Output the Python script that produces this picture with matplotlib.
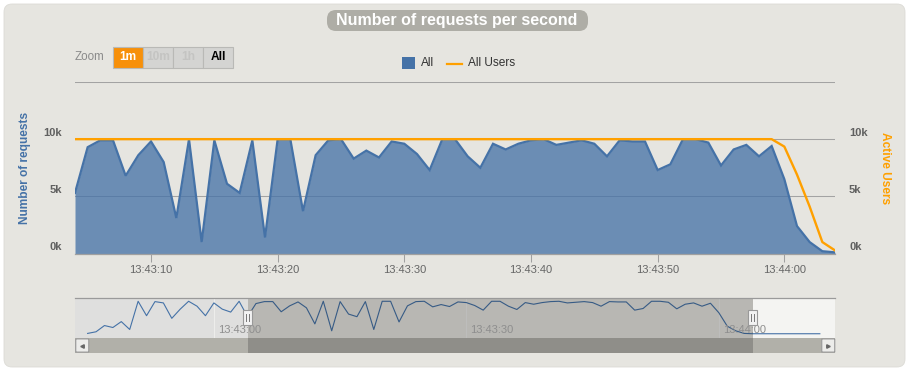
from datetime import datetime, timedelta

import matplotlib
matplotlib.use("Agg")
import matplotlib.pyplot as plt
from matplotlib.patches import Rectangle, FancyBboxPatch
from matplotlib.transforms import blended_transform_factory, offset_copy

# ---- data (time = seconds after 13:43:00) -----------------------------------

BASE = datetime(2024, 1, 1, 13, 43, 0)

t_main = list(range(4, 65))
requests_main = [5300, 9300, 9900, 9900, 6800, 8600, 9800, 8000, 3100, 10000,
                 1000, 9900, 6100, 5300, 9900, 1400, 10000, 10000, 3700, 8600,
                 9900, 10000, 8300, 9000, 8400, 9800, 9600, 8700, 7300, 10000,
                 10000, 8500, 7500, 9600, 9100, 9600, 9900, 10000, 9500, 9700,
                 9900, 9600, 8500, 9900, 9800, 9800, 7300, 7800, 10000, 10000,
                 9700, 7700, 9100, 9500, 8500, 9400, 6500, 2400, 1000, 200, 100]
active_users = [10000] * 56 + [9350, 6900, 4100, 1000, 270]

# navigator shows the whole run
t_before = list(range(-15, 4))
requests_before = [200, 700, 2600, 2000, 3800, 1400, 10000, 5600, 9900, 9500,
                   4800, 7600, 10000, 8500, 5600, 9500, 7600, 6700, 10000]
t_after = list(range(65, 73))
requests_after = [100, 100, 100, 100, 100, 100, 100, 100]

y_ticks = [0, 5000, 10000, 15000]
x_ticks = [10, 20, 30, 40, 50, 60]
nav_ticks = [0, 30, 60]
zoom_buttons = ["1m", "10m", "1h", "All"]

t_all = t_before + t_main + t_after
requests_all = requests_before + requests_main + requests_after


def hms(t):
    return (BASE + timedelta(seconds=t)).strftime("%H:%M:%S")


def k_label(v):
    return f"{v / 1000:.0f}k"


# ---- figure -----------------------------------------------------------------

W, H = 911, 372
plt.rcParams['font.family'] = ['Liberation Sans', 'DejaVu Sans']
fig = plt.figure(figsize=(W / 100, H / 100), dpi=100, facecolor="white")

BLUE = "#4572a7"
ORANGE = "#ffa000"
PANEL = "#e6e5e0"


def rect_px(x0, y0, x1, y1):
    return [x0 / W, 1 - y1 / H, (x1 - x0) / W, (y1 - y0) / H]


# background layer in pixel coordinates
bg = fig.add_axes([0, 0, 1, 1], zorder=-5)
bg.set_xlim(0, W)
bg.set_ylim(H, 0)
bg.axis("off")
bg.add_patch(FancyBboxPatch((4, 4), 901, 363, boxstyle="round,pad=0,rounding_size=8",
                            fc=PANEL, ec="#dcdbd6", lw=0.6))
bg.add_patch(FancyBboxPatch((327, 10), 261, 21, boxstyle="round,pad=0,rounding_size=9",
                            fc="#aeada6", ec="none"))
bg.text(457, 20.5, "Number of requests per second", ha="center", va="center",
        fontsize=11.5, fontweight="bold", color="white")

# zoom buttons
bg.text(75, 57.5, "Zoom", ha="left", va="center", fontsize=8.4, color="#8a8a8a")
for i, lab in enumerate(zoom_buttons):
    x0 = 113 + 30 * i
    if lab == "1m":
        fc, tc = "#f7900a", "white"
    elif lab == "All":
        fc, tc = "#d4d4d2", "black"
    else:
        fc, tc = "#d4d4d2", "#c4c4c2"
    bg.add_patch(Rectangle((x0, 47), 30, 20.5, fc=fc, ec="#b9b9b6", lw=0.8))
    bg.text(x0 + 15, 57.5, lab, ha="center", va="center", fontsize=8.6,
            fontweight="bold", color=tc)

# legend
bg.add_patch(Rectangle((402, 57), 13, 12, fc=BLUE, ec="none"))
bg.text(421, 63.5, "All", ha="left", va="center", fontsize=8.6, color="#333333")
bg.plot([447, 462], [63.5, 63.5], color=ORANGE, lw=1.6)
bg.text(467.5, 63.5, "All Users", ha="left", va="center", fontsize=8.6, color="#333333")

# ---- main chart -------------------------------------------------------------

ax = fig.add_axes(rect_px(75, 82, 835, 253.5))
ax.patch.set_visible(False)
ax.set_xlim(4, 64)
ax.set_ylim(0, 15000)
ax.set_axisbelow(True)
ax.fill_between(t_main, requests_main, color=BLUE, alpha=0.76, lw=0, zorder=2)
ax.plot(t_main, requests_main, color=BLUE, lw=1.6, zorder=3, solid_joinstyle="miter")

ax.set_yticks(y_ticks)
ax.set_yticklabels([])
ax.grid(axis="y", color="#a3a3a3", lw=0.75)
ax.set_xticks(x_ticks)
ax.set_xticklabels([hms(t) for t in x_ticks])
ax.tick_params(axis="x", length=6, width=0.75, color="#a0a0a0", pad=2.5,
               labelsize=8, labelcolor="#666666")
ax.tick_params(axis="y", length=0)
for s in ["top", "left", "right"]:
    ax.spines[s].set_visible(False)
ax.spines["bottom"].set_color("#a0a0a0")
ax.spines["bottom"].set_linewidth(0.9)

ax2 = ax.twinx()
ax2.set_ylim(0, 15000)
ax2.plot(t_main, active_users, color=ORANGE, lw=1.7, zorder=4)
ax2.set_yticks([])
for s in ax2.spines.values():
    s.set_visible(False)

# y labels sit a bit above their grid lines
blend = blended_transform_factory(ax.transAxes, ax.transData)
left_tr = offset_copy(blend, fig=fig, x=-13, y=6, units="dots")
right_tr = offset_copy(blend, fig=fig, x=14, y=6, units="dots")
for v in y_ticks[:-1]:
    ax.text(0, v, k_label(v), transform=left_tr, ha="right", va="center",
            fontsize=8, fontweight="bold", color="#606060")
    ax.text(1, v, k_label(v), transform=right_tr, ha="left", va="center",
            fontsize=8, fontweight="bold", color="#606060")

fig.text(25 / W, 1 - 168 / H, "Number of requests", rotation=90, ha="center",
         va="center", fontsize=8.6, fontweight="bold", color=BLUE)
fig.text(885 / W, 1 - 168 / H, "Active Users", rotation=270, ha="center",
         va="center", fontsize=8.6, fontweight="bold", color=ORANGE)

# ---- navigator --------------------------------------------------------------

nav = fig.add_axes(rect_px(75, 298, 835, 338))
nav.set_xlim(-16.5, 73.8)
nav.set_ylim(-1200, 11000)
nav.axis("off")
nav.axvspan(-16.5, t_main[0], color="#dfdfde", lw=0, zorder=0)
nav.axvspan(t_main[-1], 73.8, color="#f4f4f2", lw=0, zorder=0)
for t in nav_ticks:
    nav.axvline(t, color="#ededeb", lw=0.8, zorder=1)
nav.plot(t_all, requests_all, color=BLUE, lw=0.8, zorder=2)
nav.axvspan(t_main[0], t_main[-1], color="black", alpha=0.2, lw=0, zorder=3)
nav.axhline(11000, color="#9a9a9a", lw=0.9, zorder=4, clip_on=False)

nb = blended_transform_factory(nav.transData, nav.transAxes)
for t in nav_ticks:
    nav.text(t + 0.45, 0.2, hms(t), transform=nb, ha="left", va="center",
             fontsize=8, color="#8e8e8e", zorder=5)
for t in (t_main[0], t_main[-1]):
    nav.add_patch(Rectangle((t - 0.5, 0.325), 1.0, 0.375, transform=nb,
                            fc="#f2f2f2", ec="#999999", lw=0.8, zorder=6, clip_on=False))
    for dx in (-0.14, 0.14):
        nav.plot([t + dx, t + dx], [0.42, 0.6], transform=nb, color="#777777",
                 lw=0.7, zorder=7, clip_on=False)

# scrollbar
sb = fig.add_axes(rect_px(75, 338, 835, 353))
sb.set_xlim(-16.5, 73.8)
sb.set_ylim(0, 1)
sb.axis("off")
sb.axvspan(-16.5, 73.8, color="#b1b0a9", lw=0)
sb.axvspan(t_main[0], t_main[-1], color="#8f8e89", lw=0)
for x0, mk in ((0.0, "<"), (1 - 14 / 760, ">")):
    sb.add_patch(FancyBboxPatch((x0 + 0.001, 0.06), 13 / 760, 0.88, transform=sb.transAxes,
                                boxstyle="round,pad=0,rounding_size=0.003",
                                fc="#ececea", ec="#999999", lw=0.8, clip_on=False))
    sb.plot([x0 + 7 / 760], [0.5], marker=mk, ms=2.5, color="#666666",
            transform=sb.transAxes, clip_on=False)

fig.savefig("out.png", dpi=100, facecolor="white")
